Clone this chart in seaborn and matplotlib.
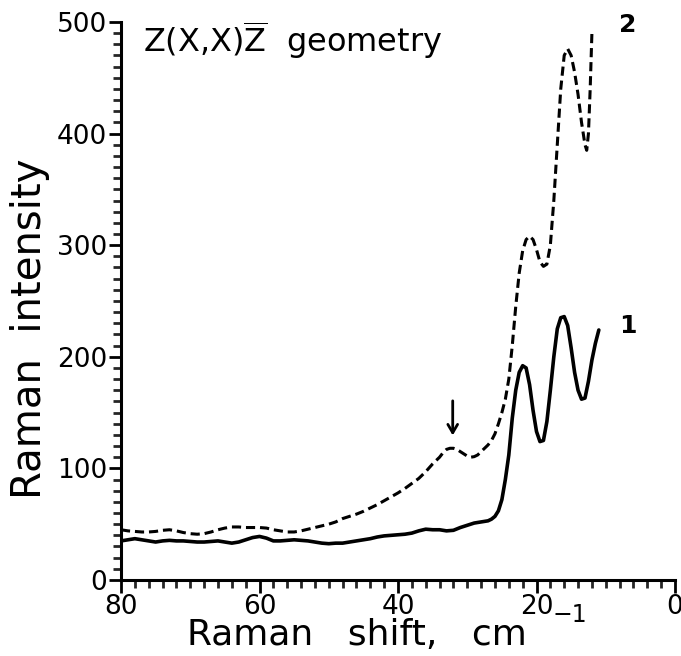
import numpy as np
import pandas as pd
import matplotlib
matplotlib.use("Agg")
import matplotlib.pyplot as plt
import seaborn as sns
from matplotlib.ticker import MultipleLocator

# ---- data ----
x1 = [80, 79, 78, 77, 76, 75, 74, 73, 72, 71, 70, 69, 68, 67, 66, 65, 64, 63, 62, 61,
      60, 59, 58, 57, 56, 55, 54, 53, 52, 51, 50, 49, 48, 47, 46, 45, 44, 43, 42, 41,
      40, 39, 38, 37, 36, 35, 34, 33, 32, 31, 30, 29, 28, 27, 26.5, 26, 25.5, 25, 24.5,
      24, 23.5, 23, 22.5, 22, 21.5, 21, 20.5, 20, 19.5, 19, 18.5, 18, 17.5, 17, 16.5, 16,
      15.5, 15, 14.5, 14, 13.5, 13, 12.5, 12, 11.5, 11]
y1 = [35, 36, 37, 36, 35, 34, 35, 35.5, 35, 35, 34.5, 34, 34, 34.5, 35, 34, 33, 34, 36, 38,
      39, 37.5, 35, 35, 35.5, 36, 35.5, 35, 34, 33, 32.5, 33, 33, 34, 35, 36, 37, 38.5, 39.5, 40,
      40.5, 41, 42, 44, 45.5, 45, 45, 44, 44.5, 47, 49, 51, 52, 53, 54.5, 57, 62, 72, 90,
      112, 145, 170, 186, 192, 190, 175, 152, 133, 124, 125, 142, 170, 200, 225, 235, 236,
      228, 208, 186, 170, 162, 163, 178, 197, 212, 224]

x2 = [80, 79, 78, 77, 76, 75, 74, 73, 72, 71, 70, 69, 68, 67, 66, 65, 64, 63, 62, 61,
      60, 59, 58, 57, 56, 55, 54, 53, 52, 51, 50, 49, 48, 47, 46, 45, 44, 43, 42, 41,
      40, 39, 38, 37, 36, 35, 34, 33.5, 33, 32.5, 32, 31.5, 31, 30.5, 30, 29.5, 29, 28.5,
      28, 27.5, 27, 26.5, 26, 25.5, 25, 24.5, 24, 23.5, 23, 22.5, 22, 21.5, 21, 20.5, 20,
      19.5, 19, 18.5, 18, 17.5, 17, 16.5, 16, 15.5, 15, 14.5, 14, 13.5, 13, 12.75, 12.5,
      12.25, 12]
y2 = [45, 44, 43.5, 43, 43, 43.5, 44.5, 45, 44, 42.5, 41.5, 41, 41.5, 43, 45, 46.5, 47.5, 47.5, 47, 47,
      47, 46.5, 45, 44, 43, 43, 44, 45.5, 47, 48.5, 50, 52, 55, 57, 59, 61.5, 64.5, 67.5, 71, 74.5,
      78, 82, 86.5, 91, 97, 104, 110, 114, 117, 118, 118, 117, 115, 113, 111, 110, 110.5, 112,
      115, 118, 121, 125, 131, 140, 150, 162, 180, 210, 245, 275, 295, 305, 308, 305, 296,
      285, 281, 283, 300, 340, 390, 440, 470, 476, 470, 455, 435, 410, 390, 385, 400,
      440, 490]

x_ticks = [80, 60, 40, 20, 0]
y_ticks = [0, 100, 200, 300, 400, 500]
curve_labels = ["1", "2"]

df1 = pd.DataFrame({"shift": x1, "intensity": y1})
df2 = pd.DataFrame({"shift": x2, "intensity": y2})

sns.set_style("ticks")
plt.rcParams["font.family"] = ["DejaVu Sans"]
plt.rcParams["mathtext.fontset"] = "custom"
plt.rcParams["mathtext.rm"] = "DejaVu Sans"
plt.rcParams["mathtext.it"] = "DejaVu Sans"
plt.rcParams["text.color"] = "black"
plt.rcParams["axes.labelcolor"] = "black"

fig = plt.figure(figsize=(6.81, 6.56), dpi=100)
ax = fig.add_axes([0.1777, 0.1159, 0.8135, 0.8506])

sns.lineplot(data=df2, x="shift", y="intensity", ax=ax, color="black", lw=2.2,
             sort=False, estimator=None)
ax.lines[-1].set_dashes((3, 1.6))
sns.lineplot(data=df1, x="shift", y="intensity", ax=ax, color="black", lw=2.6,
             sort=False, estimator=None)

ax.set_xlim(80, 0)
ax.set_ylim(0, 500)
ax.set_xticks(x_ticks)
ax.set_yticks(y_ticks)
ax.xaxis.set_minor_locator(MultipleLocator(2))
ax.yaxis.set_minor_locator(MultipleLocator(10))
ax.tick_params(axis="both", which="major", length=9, width=2, labelsize=19, pad=1,
               direction="out", colors="black")
ax.tick_params(axis="both", which="minor", length=6, width=2, direction="out")

for s in ["top", "right"]:
    ax.spines[s].set_visible(False)
for s in ["left", "bottom"]:
    ax.spines[s].set_linewidth(2.2)
    ax.spines[s].set_color("black")

ax.set_xlabel("Raman   shift,   cm", fontsize=26)
ax.set_ylabel("Raman  intensity", fontsize=29)
ax.xaxis.set_label_coords(0.426, -0.068)
ax.yaxis.set_label_coords(-0.128, 0.45)
ax.text(0.778, -0.041, "\u22121", transform=ax.transAxes, fontsize=17,
        ha="left", va="top")

ax.text(76.8, 484, r"Z(X,X)$\overline{\mathrm{Z}}$  geometry", fontsize=23,
        ha="left", va="center")
ax.text(6.8, 497, curve_labels[1], fontsize=18, fontweight="bold", ha="center", va="center")
ax.text(6.8, 228, curve_labels[0], fontsize=18, fontweight="bold", ha="center", va="center")

ax.annotate("", xy=(32.1, 127), xytext=(32.1, 163),
            arrowprops=dict(arrowstyle="->,head_length=0.6,head_width=0.35", lw=2, color="black"))

fig.savefig("out.png", dpi=100)
